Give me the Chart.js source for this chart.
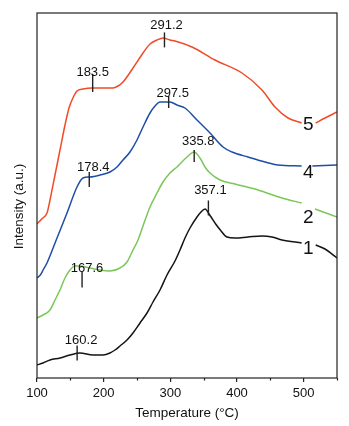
<!DOCTYPE html>
<html>
<head>
<meta charset="utf-8">
<script src="https://cdn.jsdelivr.net/npm/chart.js@4/dist/chart.umd.min.js"></script>
<style>
  html, body { margin: 0; padding: 0; background: #fff; }
</style>
</head>
<body>
<canvas id="tpd" width="349" height="426"></canvas>
<script>
// TPD profiles, temperature (°C) vs intensity (a.u., vertically offset)
// null entries leave a gap where the curve number is written
const temp1 = [100, 109, 119.5, 134.5, 149.5, 164.5, 184, 199, 209.5, 217, 224.5, 235, 244, 254.5, 265, 274, 284.5, 295, 307, 314.5, 322, 329.5, 340, 346, 352, 360, 368, 375, 385, 397, 416.5, 437.5, 452.5, 467.5, 497, 507, 518, 532, 550];
const int1  = [14, 16, 19, 21, 24, 26, 24, 24, 26, 29, 33, 39, 46, 56, 66, 77, 89, 104, 118, 129, 141, 151, 162, 167, 170, 163, 155, 149, 142, 141, 142, 143, 142, 139, 136, null, 134, 130, 121];

const temp2 = [100, 109, 119.5, 127, 134.5, 142, 149.5, 157, 164.5, 179.5, 194.5, 209.5, 224.5, 235, 244, 251.5, 259, 269.5, 280, 289, 299.5, 310, 325, 335.8, 344.5, 352, 359.5, 374.5, 397, 431.5, 467.5, 497, 507, 517, 550];
const int2  = [61, 64, 69, 79, 89, 101, 109, 113, 113, 111, 109, 108, 111, 117, 129, 139, 153, 172, 186, 197, 206, 212, 222, 227, 221, 212, 206, 199, 195, 189, 181, 176, null, 170, 162];

const temp4 = [100, 105, 110, 115, 130, 145, 160, 169, 179.5, 194.5, 209.5, 220, 229, 239.5, 250, 259, 269.5, 277, 284.5, 292, 299.5, 310, 322, 340, 359.5, 379, 392.5, 416.5, 442, 461.5, 497, 507, 513, 550];
const int4  = [101, 104, 110, 116, 141, 166, 192, 201, 202, 204, 207, 212, 219, 227, 239, 252, 266, 273, 277, 277, 277, 274, 271, 259, 246, 232, 227, 222, 217, 214, 213, null, 213, 214];

const temp5 = [100, 107, 115, 119.5, 127, 134.5, 142, 148, 152.5, 160, 169, 182.5, 202, 214, 221.5, 229, 244, 259, 269.5, 280, 289, 299.5, 307, 332.5, 367, 407.5, 437.5, 457, 476.5, 497, 507, 518, 532, 550];
const int5  = [155, 160, 166, 179, 204, 229, 254, 271, 279, 288, 290, 291, 291, 291, 293, 297, 311, 326, 335, 339, 341, 339, 338, 332, 319, 306, 289, 272, 261, 256, null, 256, 261, 267];

const curveNames = ['1', '2', '4', '5'];
const curveColors = ['#141414', '#7cc65a', '#1f4ea8', '#f04b26'];

// marked peak temperatures and the curve each one sits on (index into curveNames)
const peakTemps = [160.2, 357.1, 167.6, 335.8, 178.4, 297.5, 183.5, 291.2];
const peakCurve = [0, 0, 1, 1, 2, 2, 3, 3];

const xTicks = [100, 200, 300, 400, 500];
const xMinor = [150, 250, 350, 450, 550];

const temps = [temp1, temp2, temp4, temp5];
const ints = [int1, int2, int4, int5];

function pts(t, v) {
  return t.map((x, i) => ({ x: x, y: v[i] }));
}

// linear interpolation of a curve at temperature x
function valueAt(t, v, x) {
  for (let i = 0; i < t.length - 1; i++) {
    if (x >= t[i] && x <= t[i + 1] && v[i] != null && v[i + 1] != null) {
      const f = (x - t[i]) / (t[i + 1] - t[i]);
      return v[i] + f * (v[i + 1] - v[i]);
    }
  }
  return null;
}

const FONT = 'Liberation Sans, Arial, sans-serif';

// tick bar and label placement around each peak, in px relative to the curve
const peakStyle = [
  { top: -8, bot: 7, ly: -13, lx: 4 },
  { top: -13, bot: 2, ly: -23, lx: 2 },
  { top: 5, bot: 21, ly: 2, lx: 5 },
  { top: -2, bot: 10, ly: -11, lx: 4 },
  { top: -5, bot: 10, ly: -10, lx: 4 },
  { top: -6, bot: 6, ly: -9, lx: 4 },
  { top: -14, bot: 4, ly: -16, lx: 0 },
  { top: -6, bot: 9, ly: -13, lx: 2 }
];
// vertical shift of the curve numbers from the line
const nameShift = [5, 12, 7, 2];

const decor = {
  id: 'decor',
  afterDraw(chart) {
    const { ctx, chartArea: a, scales: { x, y } } = chart;
    ctx.save();
    // frame
    ctx.strokeStyle = '#222';
    ctx.lineWidth = 1.2;
    ctx.strokeRect(a.left, a.top, a.right - a.left, a.bottom - a.top);
    // minor ticks on the temperature axis
    ctx.beginPath();
    xMinor.forEach(v => {
      const px = Math.round(x.getPixelForValue(v)) + 0.5;
      ctx.moveTo(px, a.bottom);
      ctx.lineTo(px, a.bottom + 2.5);
    });
    ctx.stroke();

    // peak markers
    ctx.fillStyle = '#111';
    ctx.font = '13px ' + FONT;
    ctx.textAlign = 'center';
    ctx.textBaseline = 'middle';
    ctx.lineWidth = 1.4;
    peakTemps.forEach((t, i) => {
      const c = peakCurve[i];
      const s = peakStyle[i];
      const px = x.getPixelForValue(t);
      const py = y.getPixelForValue(valueAt(temps[c], ints[c], t));
      ctx.beginPath();
      ctx.moveTo(px, py + s.top);
      ctx.lineTo(px, py + s.bot);
      ctx.stroke();
      ctx.fillText(t.toFixed(1), px + s.lx, py + s.ly);
    });

    // curve numbers in the gaps
    ctx.font = '19px ' + FONT;
    curveNames.forEach((n, c) => {
      const k = ints[c].indexOf(null);
      const px = x.getPixelForValue(temps[c][k]);
      const py = (y.getPixelForValue(ints[c][k - 1]) + y.getPixelForValue(ints[c][k + 1])) / 2;
      ctx.fillText(n, px, py + nameShift[c]);
    });

    // vertical axis title, sitting a little below the middle
    ctx.font = '13.5px ' + FONT;
    ctx.translate(19, (a.top + a.bottom) / 2 + 11);
    ctx.rotate(-Math.PI / 2);
    ctx.fillText('Intensity (a.u.)', 0, 0);
    ctx.restore();
  }
};

new Chart(document.getElementById('tpd'), {
  type: 'line',
  data: {
    datasets: curveNames.map((n, c) => ({
      label: n,
      data: pts(temps[c], ints[c]),
      borderColor: curveColors[c],
      borderWidth: 1.5,
      pointRadius: 0,
      cubicInterpolationMode: 'monotone',
      spanGaps: false
    }))
  },
  options: {
    responsive: false,
    animation: false,
    layout: { padding: { top: 13, right: 12, left: 0, bottom: 0 } },
    plugins: { legend: { display: false }, tooltip: { enabled: false } },
    scales: {
      x: {
        type: 'linear',
        min: 100,
        max: 550,
        afterFit: s => { s.height = 48; },
        afterBuildTicks: s => { s.ticks = xTicks.map(v => ({ value: v })); },
        ticks: {
          color: '#111',
          font: { family: FONT, size: 13 },
          padding: 4,
          maxRotation: 0,
          callback: v => v
        },
        grid: { drawOnChartArea: false, tickLength: 4, color: '#222', lineWidth: 1.2 },
        border: { display: false },
        title: {
          display: true,
          text: 'Temperature (°C)',
          color: '#111',
          font: { family: FONT, size: 13.5 },
          padding: { top: 0, bottom: 5 }
        }
      },
      y: {
        min: 1,
        max: 366,
        afterFit: s => { s.width = 37; },
        ticks: { display: false },
        grid: { display: false },
        border: { display: false },
        title: { display: false }
      }
    }
  },
  plugins: [decor]
});
</script>
</body>
</html>
